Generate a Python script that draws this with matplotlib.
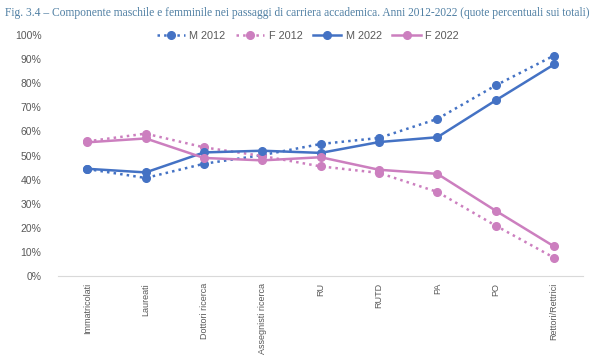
import matplotlib.pyplot as plt
from matplotlib.ticker import PercentFormatter

categories = ['Immatricolati', 'Laureati', 'Dottori ricerca', 'Assegnisti ricerca',
              'RU', 'RUTD', 'PA', 'PO', 'Rettori/Rettrici']

m_2012 = [44.4, 40.7, 46.6, 50.2, 54.8, 57.3, 65.2, 79.1, 91.5]
f_2012 = [55.9, 59.1, 53.4, 49.8, 45.5, 42.8, 34.9, 20.9, 7.6]
m_2022 = [44.5, 43.0, 51.3, 52.0, 51.1, 55.6, 57.6, 72.9, 87.8]
f_2022 = [55.5, 57.1, 49.0, 48.0, 49.3, 44.1, 42.4, 27.1, 12.3]

blue = '#4472C4'
pink = '#CC7FBF'
grey = '#595959'

fig = plt.figure(figsize=(6, 3.58), dpi=100)
ax = fig.add_axes([0.097, 0.229, 0.875, 0.673])

x = range(len(categories))
ax.plot(x, m_2012, color=blue, ls=':', lw=1.8, marker='o', ms=5.5, label='M 2012')
ax.plot(x, f_2012, color=pink, ls=':', lw=1.8, marker='o', ms=5.5, label='F 2012')
ax.plot(x, m_2022, color=blue, ls='-', lw=1.8, marker='o', ms=5.5, label='M 2022')
ax.plot(x, f_2022, color=pink, ls='-', lw=1.8, marker='o', ms=5.5, label='F 2022')

ax.set_xlim(-0.5, 8.5)
ax.set_ylim(0, 100)
ax.set_yticks(range(0, 101, 10))
ax.yaxis.set_major_formatter(PercentFormatter(decimals=0))
ax.set_xticks(list(x))
ax.set_xticklabels(categories, rotation=90, fontsize=6.5, color=grey,
                   family='Liberation Sans')
ax.tick_params(axis='y', labelsize=7.5, colors=grey, length=0, pad=12)
ax.tick_params(axis='x', length=0, pad=5)
for lab in ax.get_yticklabels():
    lab.set_family('Liberation Sans')

for s in ['top', 'right', 'left']:
    ax.spines[s].set_visible(False)
ax.spines['bottom'].set_color('#D9D9D9')

leg = ax.legend(loc='center', bbox_to_anchor=(0.475, 0.995), ncol=4, frameon=False,
                handlelength=2.6, columnspacing=1.0, handletextpad=0.4,
                prop={'family': 'Liberation Sans', 'size': 7.8})
for t in leg.get_texts():
    t.set_color(grey)

fig.text(0.008, 0.965, 'Fig. 3.4 \u2013 Componente maschile e femminile nei passaggi di carriera '
         'accademica. Anni 2012-2022 (quote percentuali sui totali)',
         family='Liberation Serif', fontsize=8.3, color='#4F7FA3', va='center', ha='left')

fig.savefig('out.png', dpi=100)
